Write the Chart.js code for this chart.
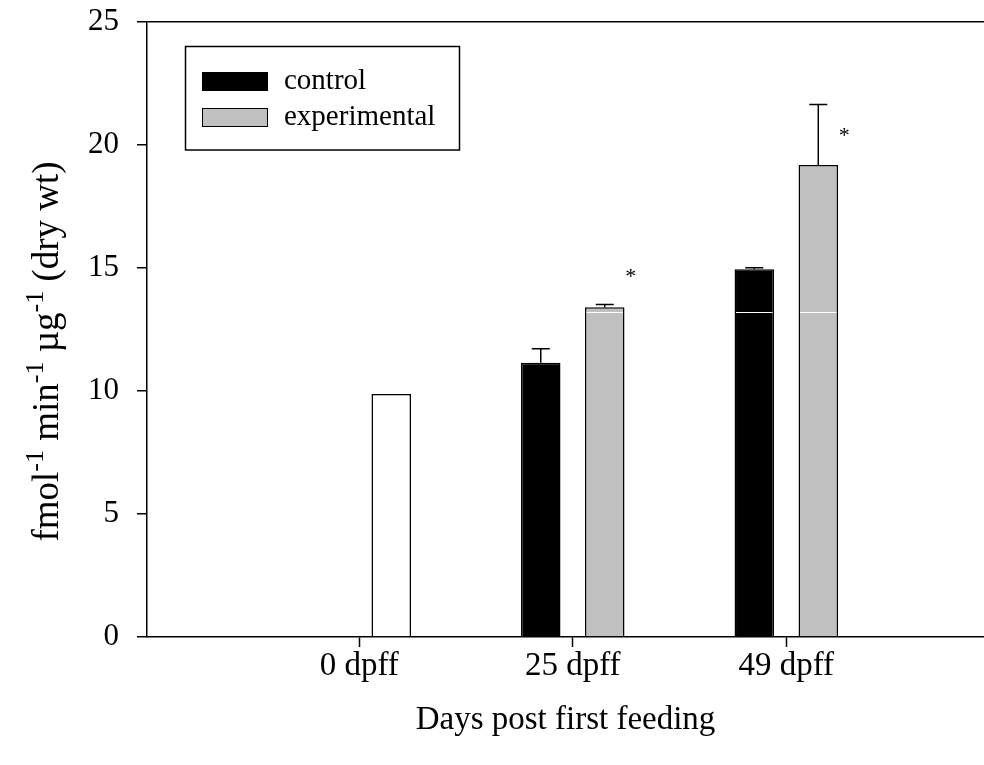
<!DOCTYPE html>
<html>
<head>
<meta charset="utf-8">
<script src="https://cdn.jsdelivr.net/npm/chart.js@4/dist/chart.umd.min.js"></script>
<style>
  body { margin: 0; background: #fff; }
  canvas { display: block; }
</style>
</head>
<body>
<canvas id="grafico" width="984" height="765"></canvas>
<script>
// dados
const dayLabels = ["0 dpff", "25 dpff", "49 dpff"];
const controlMeans = [null, 11.15, 14.95];
const controlErr = [null, 0.57, 0.06];
const experimentalMeans = [9.88, 13.40, 19.19];
const experimentalErr = [null, 0.12, 2.46];
// altura dos asteriscos (diferenca significativa)
const starLevels = [null, 14.74, 20.48];
// linha branca horizontal que aparece dentro das barras
const whiteLineValue = 13.2;
const yTickValues = [0, 5, 10, 15, 20, 25];
// titulo do eixo y em pedacos: [texto, expoente]
const yTitleParts = [["fmol", "-1"], [" min", "-1"], [" \u00B5g", "-1"], [" (dry wt)", ""]];

const fonte = "'Liberation Serif', 'Times New Roman', serif";

// barras de erro (so para cima)
const errorBars = {
  id: "errorBars",
  afterDatasetsDraw(chart) {
    const ctx = chart.ctx;
    const y = chart.scales.y;
    const errs = [controlErr, experimentalErr];
    ctx.save();
    ctx.strokeStyle = "#000";
    ctx.lineWidth = 1.5;
    chart.data.datasets.forEach((ds, d) => {
      chart.getDatasetMeta(d).data.forEach((bar, i) => {
        const e = errs[d][i];
        if (e == null || ds.data[i].y == null) return;
        const yTop = y.getPixelForValue(ds.data[i].y + e);
        ctx.beginPath();
        ctx.moveTo(bar.x, bar.y);
        ctx.lineTo(bar.x, yTop);
        ctx.moveTo(bar.x - 9, yTop);
        ctx.lineTo(bar.x + 9, yTop);
        ctx.stroke();
      });
    });
    ctx.restore();
  }
};

// linha branca e asteriscos
const extras = {
  id: "extras",
  afterDatasetsDraw(chart) {
    const ctx = chart.ctx;
    const y = chart.scales.y;
    const ly = Math.round(y.getPixelForValue(whiteLineValue)) + 0.5;
    ctx.save();
    ctx.strokeStyle = "#fff";
    ctx.lineWidth = 1;
    chart.data.datasets.forEach((ds, d) => {
      chart.getDatasetMeta(d).data.forEach((bar, i) => {
        if (ds.data[i].y == null || bar.y > ly - 2) return;
        ctx.beginPath();
        ctx.moveTo(bar.x - bar.width / 2 + 1.5, ly);
        ctx.lineTo(bar.x + bar.width / 2 - 1.5, ly);
        ctx.stroke();
      });
    });
    ctx.fillStyle = "#000";
    ctx.font = "22px " + fonte;
    ctx.textAlign = "center";
    ctx.textBaseline = "middle";
    const meta = chart.getDatasetMeta(1);
    starLevels.forEach((v, i) => {
      if (v == null) return;
      ctx.fillText("*", meta.data[i].x + 26, y.getPixelForValue(v) + 3);
    });
    ctx.restore();
  }
};

// titulo do eixo y com expoentes
const yTitle = {
  id: "yTitle",
  afterDraw(chart) {
    const ctx = chart.ctx;
    const base = "37px " + fonte;
    const sup = "26px " + fonte;
    ctx.save();
    let total = 0;
    yTitleParts.forEach(([t, s]) => {
      ctx.font = base; total += ctx.measureText(t).width;
      ctx.font = sup; total += ctx.measureText(s).width;
    });
    const area = chart.chartArea;
    ctx.translate(58, (area.top + area.bottom) / 2 + 22);
    ctx.rotate(-Math.PI / 2);
    ctx.fillStyle = "#000";
    ctx.textAlign = "left";
    ctx.textBaseline = "alphabetic";
    let x = -total / 2;
    yTitleParts.forEach(([t, s]) => {
      ctx.font = base; ctx.fillText(t, x, 0); x += ctx.measureText(t).width;
      ctx.font = sup; ctx.fillText(s, x, -15); x += ctx.measureText(s).width;
    });
    ctx.restore();
  }
};

// legenda com moldura dentro da area do grafico
const boxLegend = {
  id: "boxLegend",
  afterDraw(chart) {
    const ctx = chart.ctx;
    ctx.save();
    ctx.strokeStyle = "#000";
    ctx.lineWidth = 1.5;
    ctx.strokeRect(185.5, 46.5, 274, 103.5);
    const cores = ["#000000", "#c0c0c0"];
    ctx.font = "29px " + fonte;
    ctx.textBaseline = "middle";
    ctx.textAlign = "left";
    chart.data.datasets.forEach((ds, d) => {
      const top = 72 + d * 36;
      ctx.fillStyle = cores[d];
      ctx.fillRect(202, top, 65, 18);
      ctx.lineWidth = 1;
      ctx.strokeRect(202.5, top + 0.5, 65, 18);
      ctx.fillStyle = "#000";
      ctx.fillText(ds.label, 284, top + 9);
    });
    ctx.restore();
  }
};

new Chart(document.getElementById("grafico"), {
  type: "bar",
  data: {
    datasets: [
      {
        label: "control",
        data: controlMeans.map((v, i) => ({ x: i, y: v })),
        backgroundColor: "#000000",
        borderColor: "#000000",
        borderWidth: 1.5,
      },
      {
        label: "experimental",
        data: experimentalMeans.map((v, i) => ({ x: i, y: v })),
        backgroundColor: ["#ffffff", "#c0c0c0", "#c0c0c0"],
        borderColor: "#000000",
        borderWidth: 1.5,
      },
    ],
  },
  options: {
    responsive: false,
    animation: false,
    devicePixelRatio: 1,
    barPercentage: 0.617,
    categoryPercentage: 0.5995,
    layout: { padding: { top: 22, right: 0, left: 0, bottom: 0 } },
    plugins: {
      legend: { display: false },
      tooltip: { enabled: false },
    },
    scales: {
      x: {
        type: "linear",
        min: -0.994,
        max: 2.926,
        offset: false,
        afterBuildTicks: (scale) => {
          scale.ticks = dayLabels.map((_, i) => ({ value: i }));
        },
        afterFit: (scale) => {
          scale.height = 128;
          scale.paddingLeft = 0;
          scale.paddingRight = 0;
        },
        ticks: {
          callback: (v) => dayLabels[v],
          color: "#000",
          font: { family: fonte, size: 33 },
          padding: 0,
          maxRotation: 0,
          autoSkip: false,
        },
        grid: {
          offset: false,
          drawOnChartArea: false,
          drawTicks: true,
          tickLength: 10,
          tickColor: "#000",
          tickWidth: 1.5,
        },
        border: { display: true, color: "#000", width: 1.5 },
        title: {
          display: true,
          text: "Days post first feeding",
          color: "#000",
          font: { family: fonte, size: 33 },
          padding: { top: 0, bottom: 25 },
        },
      },
      y: {
        min: 0,
        max: 25,
        afterBuildTicks: (scale) => {
          scale.ticks = yTickValues.map((v) => ({ value: v }));
        },
        afterFit: (scale) => {
          scale.width = 147;
          scale.paddingTop = 0;
          scale.paddingBottom = 0;
        },
        ticks: {
          color: "#000",
          font: { family: fonte, size: 31 },
          padding: 18,
        },
        grid: {
          color: (c) => (c.tick && c.tick.value === 25 ? "#000" : "rgba(0,0,0,0)"),
          lineWidth: 1.5,
          drawTicks: true,
          tickLength: 10,
          tickColor: "#000",
          tickWidth: 1.5,
        },
        border: { display: true, color: "#000", width: 1.5 },
      },
    },
  },
  plugins: [errorBars, extras, yTitle, boxLegend],
});
</script>
</body>
</html>
